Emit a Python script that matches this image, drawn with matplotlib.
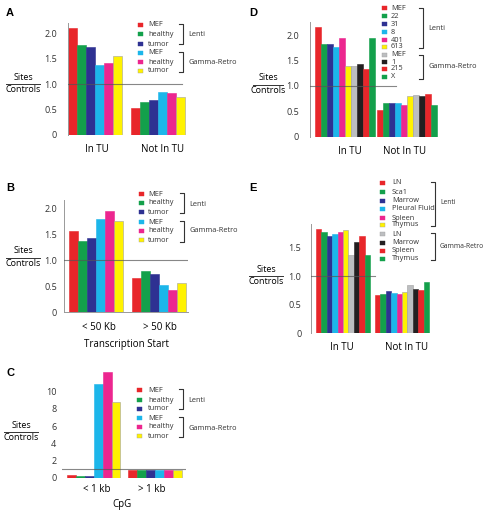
import numpy as np
import matplotlib
matplotlib.use("Agg")
import matplotlib.pyplot as plt
from matplotlib.patches import Rectangle
from matplotlib.lines import Line2D

W, H = 486, 513

# ---- data ----
abc_labels = ["MEF", "healthy", "tumor", "MEF", "healthy", "tumor"]
a_groups = ["In TU", "Not In TU"]
a_in = [2.10, 1.78, 1.73, 1.37, 1.42, 1.56]
a_out = [0.54, 0.65, 0.69, 0.84, 0.82, 0.75]

b_groups = ["< 50 Kb", "> 50 Kb"]
b_in = [1.55, 1.37, 1.43, 1.78, 1.95, 1.75]
b_out = [0.66, 0.78, 0.74, 0.52, 0.43, 0.55]

c_groups = ["< 1 kb", "> 1 kb"]
c_in = [0.31, 0.19, 0.16, 10.85, 12.3, 8.8]
c_out = [0.93, 0.93, 0.93, 0.88, 0.88, 0.90]

d_labels = ["MEF", "22", "31", "8", "401", "613", "MEF", "1", "215", "X"]
d_in = [2.16, 1.82, 1.82, 1.77, 1.95, 1.40, 1.40, 1.44, 1.34, 1.95]
d_out = [0.52, 0.66, 0.66, 0.66, 0.62, 0.81, 0.83, 0.81, 0.85, 0.62]

e_labels = ["LN", "Sca1", "Marrow", "Pleural Fluid", "Spleen", "Thymus",
            "LN", "Marrow", "Spleen", "Thymus"]
e_in = [1.82, 1.76, 1.70, 1.73, 1.77, 1.81, 1.36, 1.59, 1.70, 1.36]
e_out = [0.67, 0.69, 0.74, 0.70, 0.69, 0.72, 0.85, 0.77, 0.76, 0.89]

RED, GREEN, BLUE = "#e8262a", "#13a04b", "#2e3192"
CYAN, MAG, YEL = "#1cb6ea", "#ec268f", "#fff200"
GREY, BLACK = "#bcbec0", "#231f20"
abc_colors = [RED, GREEN, BLUE, CYAN, MAG, YEL]
de_colors = [RED, GREEN, BLUE, CYAN, MAG, YEL, GREY, BLACK, RED, GREEN]

plt.rcParams["font.family"] = ["Open Sans", "DejaVu Sans"]
fig = plt.figure(figsize=(W / 100, H / 100), dpi=100)


def fx(x):
    return x / W


def fy(y):
    return 1 - y / H


def ftext(x, y, s, size=6.5, **kw):
    kw.setdefault("ha", "center")
    kw.setdefault("va", "center")
    fig.text(fx(x), fy(y), s, fontsize=size, **kw)


def panel(spine_x, right_x, zero_y, ppu, ymax, start, bw, gap, vin, vout,
          colors, ticks, ticklabels, hl_frac=1.0, pad=5, show_left=True,
          show_bottom=False):
    top_y = zero_y - ymax * ppu
    ax = fig.add_axes([fx(spine_x), fy(zero_y), (right_x - spine_x) / W,
                       (zero_y - top_y) / H])
    n = len(vin)
    x1 = start + np.arange(n) * bw
    x2 = start + n * bw + gap + np.arange(n) * bw
    for xs, vals in ((x1, vin), (x2, vout)):
        ax.bar(xs, vals, width=bw, align="edge", color=colors,
               edgecolor=["#a0a0a0" if c in (YEL, GREY) else c for c in colors],
               linewidth=0.4, zorder=2)
    ax.set_xlim(0, right_x - spine_x)
    ax.set_ylim(0, ymax)
    ax.axhline(1.0, xmin=0, xmax=hl_frac, color="#555555", lw=0.8,
               alpha=0.7, zorder=3)
    ax.set_yticks(ticks)
    ax.set_yticklabels(ticklabels)
    ax.tick_params(axis="y", length=0, pad=pad, labelsize=6.5, colors="#333333")
    ax.set_xticks([])
    for s in ("top", "right"):
        ax.spines[s].set_visible(False)
    ax.spines["left"].set_visible(show_left)
    ax.spines["left"].set_color("#999999")
    ax.spines["left"].set_linewidth(0.7)
    ax.spines["bottom"].set_visible(show_bottom)
    ax.spines["bottom"].set_color("#999999")
    ax.spines["bottom"].set_linewidth(0.7)
    ax.patch.set_alpha(0)
    return ax


def sites_controls(xc, y, half=17):
    ftext(xc, y - 7, "Sites", 6.5)
    ftext(xc, y + 6, "Controls", 6.5)
    fig.add_artist(Line2D([fx(xc - half), fx(xc + half)], [fy(y), fy(y)],
                          color="#333333", lw=0.7))


def legend(sq_x, rows, labels, colors, text_x, br_x, lenti, gamma, size=5.3):
    for y, lab, c in zip(rows, labels, colors):
        fig.add_artist(Rectangle((fx(sq_x), fy(y + 2)), 5 / W, 4 / H,
                                 facecolor=c,
                                 edgecolor="#a0a0a0" if c in (YEL, GREY) else c,
                                 lw=0.3))
        ftext(text_x, y, lab, 5.3, ha="left", color="#333333")
    for (y0, y1, ty), name in ((lenti, "Lenti"), (gamma, "Gamma-Retro")):
        xs = [fx(br_x - 4), fx(br_x), fx(br_x), fx(br_x - 4)]
        ys = [fy(y0), fy(y0), fy(y1), fy(y1)]
        fig.add_artist(Line2D(xs, ys, color="#333333", lw=0.8))
        ftext(br_x + 5, ty, name, size, ha="left", color="#333333")


lab_ticks = [0, 0.5, 1.0, 1.5, 2.0]
lab_tl = ["0", "0.5", "1.0", "1.5", "2.0"]

# ---- A ----
panel(68, 188, 135, 50.8, 2.2, 0, 9, 9, a_in, a_out, abc_colors,
      lab_ticks, lab_tl, hl_frac=0.95, pad=8)
ftext(10, 13, "A", 8, fontweight="bold", family="Liberation Sans")
sites_controls(23, 84)
ftext(97, 150, a_groups[0], 7)
ftext(163, 150, a_groups[1], 7)
legend(138, [25, 34, 44, 53, 62, 71], abc_labels, abc_colors, 148, 183,
       (24, 44, 35), (52, 72, 62))

# ---- B ----
panel(64, 188, 312, 52, 2.15, 5, 9, 9, b_in, b_out, abc_colors,
      lab_ticks, lab_tl, pad=5, show_bottom=True)
ftext(10, 188, "B", 8, fontweight="bold", family="Liberation Sans")
sites_controls(23, 258)
ftext(99, 328, b_groups[0], 7)
ftext(160, 328, b_groups[1], 7)
ftext(127, 345, "Transcription Start", 7)
legend(139, [194, 203, 212, 222, 231, 240], abc_labels, abc_colors, 148, 184,
       (193, 213, 204), (221, 242, 231))

# ---- C ----
panel(62, 186, 477.7, 8.6, 12.6, 5, 8.9, 8, c_in, c_out, abc_colors,
      [0, 2, 4, 6, 8, 10], ["0", "2", "4", "6", "8", "10"], pad=4,
      show_left=False)
ftext(10, 373, "C", 8, fontweight="bold", family="Liberation Sans")
sites_controls(21, 432)
ftext(97, 490, c_groups[0], 7)
ftext(152, 490, c_groups[1], 7)
ftext(122, 505, "CpG", 7)
legend(137, [390, 400, 409, 418, 427, 436], abc_labels, abc_colors, 148, 183,
       (389, 409, 400), (417, 437, 428))

# ---- D ----
panel(310, 440, 136.7, 50.8, 2.25, 5, 6, 2, d_in, d_out, de_colors,
      lab_ticks, lab_tl, hl_frac=0.66, pad=8)
ftext(253, 13, "D", 8, fontweight="bold", family="Liberation Sans")
sites_controls(268, 85, 15)
ftext(350, 152, a_groups[0], 7)
ftext(405, 152, a_groups[1], 7)
legend(382, [8, 16, 24, 32, 40, 47, 55, 62, 69, 77], d_labels, de_colors,
       391, 423, (8, 48, 28), (55, 79, 67))

# ---- E ----
panel(311, 431, 333.3, 57.3, 1.9, 5, 5.4, 5, e_in, e_out, de_colors,
      [0, 0.5, 1.0, 1.5], ["0", "0.5", "1.0", "1.5"], hl_frac=0.53, pad=7)
ftext(253, 188, "E", 8, fontweight="bold", family="Liberation Sans")
sites_controls(266, 276)
ftext(342, 347, a_groups[0], 7)
ftext(407, 347, a_groups[1], 7)
legend(380, [183, 192, 201, 209, 218, 225, 234, 243, 251, 259], e_labels,
       de_colors, 392, 435, (182, 226, 203), (233, 260, 246), size=4.9)

fig.savefig("out.png", dpi=100)
